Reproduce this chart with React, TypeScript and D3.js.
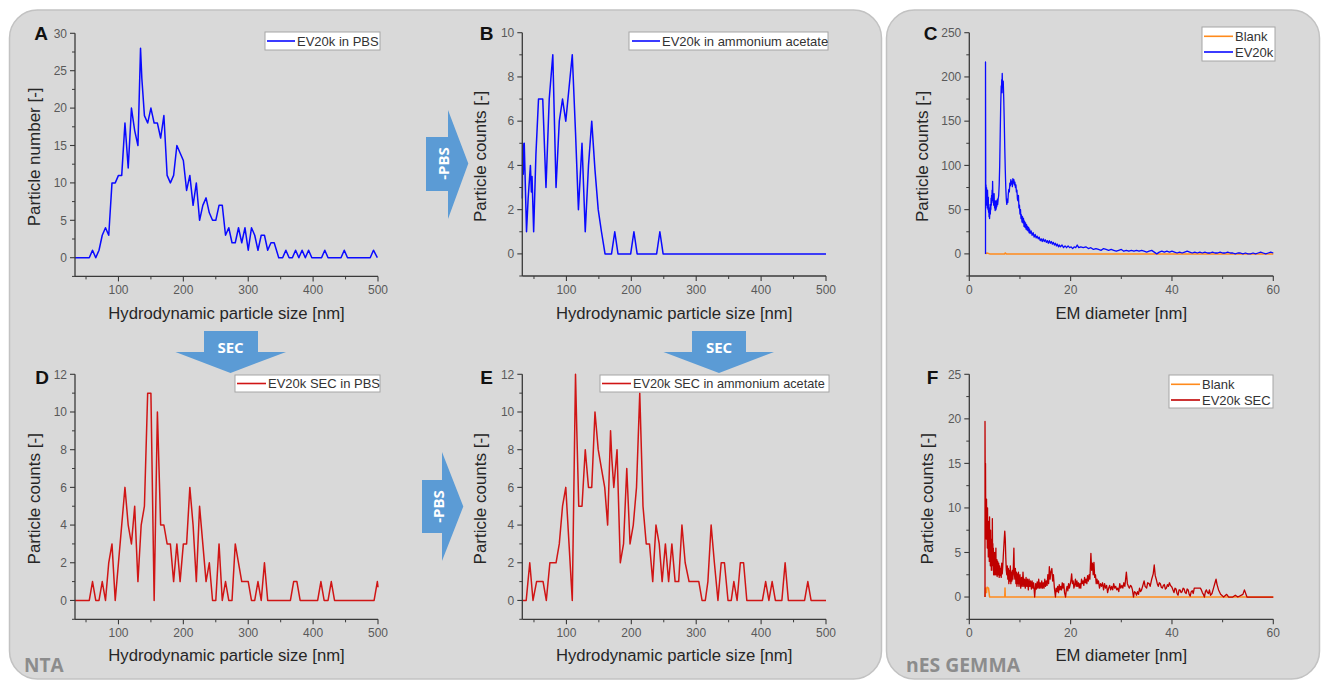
import React from 'react';
import * as d3 from 'd3';

type Pt = [number, number];

// ---------- tick values ----------
const nmTicks = [100, 200, 300, 400, 500];
const nmMinor = [50, 150, 250, 350, 450];
const emTicks = [0, 20, 40, 60];
const emMinor = [10, 30, 50];
const yTicksA = [0, 5, 10, 15, 20, 25, 30];
const yMinorA = [-2.5, 2.5, 7.5, 12.5, 17.5, 22.5, 27.5];
const yTicksB = [0, 2, 4, 6, 8, 10];
const yMinorB = [-1, 1, 3, 5, 7, 9];
const yTicksC = [0, 50, 100, 150, 200, 250];
const yMinorC = [-25, 25, 75, 125, 175, 225];
const yTicksDE = [0, 2, 4, 6, 8, 10, 12];
const yMinorDE = [-1, 1, 3, 5, 7, 9, 11];
const yTicksF = [0, 5, 10, 15, 20, 25];
const yMinorF = [-2.5, 2.5, 7.5, 12.5, 17.5, 22.5];

// ---------- series ----------
const ev20kPBS: Pt[] = [
  [33,0],[55,0],[60,1],[65,0],[70,1],[75,3],[80,4],[85,3],[90,10],[95,10],[100,11],[105,11],[110,18],[115,12],[120,20],[125,17],[130,15],[134,28],[136,24],[140,19],[145,18],[150,20],[155,18],[160,18],[165,16],[170,19],[175,11],[180,10],[185,11],[190,15],[195,14],[200,13],[205,9],[210,11],[215,7],[220,10],[225,5],[230,7],[235,8],[240,6],[245,5],[250,5],[255,7],[260,7],[265,3],[270,4],[275,2],[280,2],[285,4],[290,2],[295,4],[300,1],[305,4],[310,3],[315,1],[320,3],[325,3],[330,1],[335,2],[340,2],[347,0],[353,0],[358,1],[363,0],[368,0],[373,1],[378,0],[383,1],[388,0],[393,1],[398,0],[413,0],[418,1],[423,0],[443,0],[448,1],[453,0],[488,0],[493,1],[499,0]
];

const ev20kAA: Pt[] = [
  [32,2.5],[32.5,5],[33.5,3.6],[35,5],[38.5,1],[41,2.5],[44.5,4],[46,2.8],[47,3.5],[49.5,1],[53,4.5],[57,7],[63.5,7],[66,5],[68.5,3],[73.5,7],[79,9],[84,3],[89,6],[94,7],[99,6],[104,7.5],[109,9],[114,5.5],[118.5,2],[124,5],[129,1],[134,4],[139,6],[144,3.8],[149,2],[154,1],[159.5,0],[169.5,0],[174.5,1],[179.5,0],[199,0],[204,1],[209,0],[239,0],[244,1],[249,0],[500,0]
];

const blankC: Pt[] = [
  [3.2,0],[3.5,1],[4,0],[7,0],[7.1,1],[7.3,0],[60,0]
];

const ev20kC: Pt[] = [
  [3.2,0],[3.2,217],[3.25,62],[3.3,78],[3.35,60],[3.4,75],[3.45,55],[3.5,70],[3.55,52],[3.6,72],[3.65,58],[3.7,50],[3.75,64],[3.8,47],[3.85,56],[3.9,42],[3.95,50],[4.0,40],[4.05,48],[4.1,52],[4.15,45],[4.2,56],[4.25,50],[4.3,63],[4.35,55],[4.4,66],[4.45,58],[4.5,72],[4.55,64],[4.6,82],[4.65,66],[4.7,60],[4.75,68],[4.8,55],[4.85,62],[4.9,68],[4.95,56],[5.0,52],[5.05,60],[5.1,49],[5.15,55],[5.2,60],[5.25,50],[5.3,56],[5.35,52],[5.4,60],[5.45,54],[5.5,57],[5.55,62],[5.6,56],[5.7,62],[5.8,66],[5.9,78],[6.0,100],[6.1,135],[6.2,168],[6.3,190],[6.35,182],[6.4,197],[6.45,190],[6.5,204],[6.55,188],[6.6,196],[6.65,182],[6.7,195],[6.8,175],[6.9,150],[7.0,120],[7.1,95],[7.2,75],[7.3,62],[7.4,56],[7.5,62],[7.6,58],[7.7,68],[7.8,73],[7.9,70],[8.0,80],[8.1,77],[8.2,84],[8.3,79],[8.4,82],[8.5,76],[8.6,85],[8.7,80],[8.8,84],[8.9,78],[9.0,81],[9.1,75],[9.2,78],[9.3,70],[9.4,72],[9.5,62],[9.6,60],[9.7,66],[9.8,52],[9.9,55],[10.0,45],[10.1,50],[10.2,40],[10.3,44],[10.4,36],[10.5,42],[10.6,35],[10.7,40],[10.8,31],[10.9,37],[11.0,30],[11.1,35],[11.2,28],[11.3,33],[11.4,27],[11.5,31],[11.6,26],[11.7,30],[11.8,24],[11.9,28],[12.0,23],[12.2,26],[12.4,21],[12.6,24],[12.8,19],[13.0,22],[13.2,18],[13.4,20],[13.6,17],[13.8,19],[14.0,15],[14.2,17],[14.4,14],[14.6,17],[14.8,14],[15.0,16],[15.2,13],[15.4,15],[15.6,12],[15.8,15],[16.0,12],[16.2,14],[16.4,11],[16.6,13],[16.8,10],[17.0,12],[17.2,9],[17.4,11],[17.6,8],[17.8,10],[18.0,8],[18.3,10],[18.6,7],[18.9,9],[19.2,7],[19.5,9],[19.8,7],[20.1,8],[20.4,6],[20.7,8],[21.0,7],[21.3,10],[21.6,7],[22.0,8],[22.5,7],[23.0,8],[23.5,6],[24.0,7],[24.5,5],[25.0,6],[25.5,5],[26.0,4],[26.5,6],[27.0,5],[27.5,4],[28.0,5],[28.5,4],[29.0,3],[29.5,4],[30.0,5],[30.5,3],[31.0,4],[31.5,3],[32.0,4],[32.5,3],[33.0,4],[33.5,3],[34.0,4],[34.5,3],[35.0,2],[35.5,3],[36.0,4],[36.5,2],[37.0,0],[37.5,2],[38.0,3],[38.5,2],[39.0,3],[39.5,2],[40.0,3],[40.5,2],[41,1],[41.5,2],[42,1],[42.5,2],[43,3],[43.5,2],[44,1],[44.5,2],[45,1],[45.5,2],[46,1],[46.5,2],[47,1],[47.5,1],[48,2],[48.5,1],[49,1],[49.5,2],[50,1],[50.5,1],[51,2],[51.5,1],[52,1],[52.5,0],[53,1],[53.5,1],[54,0],[54.5,1],[55,0],[55.5,0],[56,1],[56.5,0],[57,1],[57.5,2],[58,1],[58.5,0],[59,1],[59.5,2],[60,1]
];

const ev20kSECPBS: Pt[] = [
  [33,0],[55,0],[60,1],[65,0],[70,0],[75,1],[80,0],[85,2],[90,3],[95,0],[100,2],[105,4],[110,6],[115,4],[120,3],[125,5],[130,1],[135,4],[140,5],[145,11],[150,11],[155,0],[160,10],[165,4],[170,4],[175,3],[180,3],[185,1],[190,3],[195,1],[200,3],[205,3],[210,6],[215,4],[220,1],[225,5],[230,3],[235,1],[240,2],[245,0],[250,0],[255,3],[260,0],[265,1],[270,0],[275,0],[280,3],[285,2],[290,1],[295,1],[300,1],[305,0],[310,0],[315,1],[320,0],[325,2],[330,0],[365,0],[370,1],[375,1],[380,0],[407,0],[412,1],[417,0],[423,0],[428,1],[433,0],[494,0],[499,1],[500,0.7]
];

const ev20kSECAA: Pt[] = [
  [32,0],[38,0],[43.5,2],[48.5,0],[54,1],[64,1],[69,0],[74.5,2],[84,2],[89,3],[94,5],[99,6],[104,3],[109,0],[114,12],[116,9],[119,5],[124,5],[129,8],[134,6],[139,6],[144,10],[149,8],[154,7],[159,6],[163.5,4],[168,9],[170,7.5],[173,6],[178,8],[183,2],[188,3],[193,7],[198,3],[203,4],[208,6],[213,11],[218,5],[223,3],[228,3],[233,1],[238,4],[243,3],[247.5,1],[252.5,3],[257.5,1],[262.5,3],[267.5,1],[273,1],[278,4],[283,2],[289,1],[304,1],[309,0],[314,0],[318,1],[323,4],[328,2],[333.5,0],[338.5,2],[343.5,2],[349,0],[354,0],[358,1],[363,0],[368,2],[373,2],[378,0],[402,0],[407,1],[412,0],[417,1],[422,0],[432,0],[437,2],[442,0],[467,0],[472,1],[477,0],[500,0]
];

const blankF: Pt[] = [
  [3.1,0],[3.2,1],[3.4,0.5],[3.5,1.1],[3.8,1],[4.0,0],[7.0,0],[7.05,1],[7.1,0],[60,0]
];

const ev20kSECF: Pt[] = [
  [3.1,0],[3.1,19.7],[3.15,12],[3.2,15],[3.25,8],[3.3,11],[3.35,6.5],[3.4,11],[3.45,7],[3.5,9.5],[3.55,5.5],[3.6,10],[3.65,6],[3.7,8],[3.75,4.5],[3.8,8.5],[3.85,5],[3.9,7],[3.95,4],[4.0,9],[4.05,5],[4.1,6.5],[4.15,3.5],[4.2,7.5],[4.25,4],[4.3,6],[4.35,3],[4.4,6.5],[4.45,3.5],[4.5,5],[4.55,8.8],[4.6,4],[4.65,6],[4.7,3],[4.75,5.5],[4.8,2.5],[4.85,5],[4.9,3],[4.95,4.5],[5.0,2.5],[5.05,5],[5.1,2.5],[5.15,4.5],[5.2,3],[5.25,5.5],[5.3,2.5],[5.35,4],[5.4,2.8],[5.45,4.2],[5.5,2.3],[5.6,4],[5.7,2.5],[5.8,3.8],[5.9,2.2],[6.0,3.5],[6.1,2.4],[6.2,3.2],[6.3,2.2],[6.4,3.8],[6.5,2.6],[6.6,3.4],[6.7,4.5],[6.8,5.5],[6.9,6.5],[7.0,7.4],[7.1,6.5],[7.2,4.5],[7.3,3],[7.4,2.5],[7.5,3.5],[7.6,2],[7.7,3.2],[7.8,1.5],[7.9,3],[8.0,1.8],[8.1,3.5],[8.2,1.5],[8.3,2.8],[8.4,1.8],[8.5,3],[8.6,2],[8.7,3.5],[8.8,5.5],[8.9,2.5],[9.0,2],[9.1,3.2],[9.2,1.5],[9.3,2.8],[9.4,1.2],[9.5,2.6],[9.6,1.5],[9.7,2.8],[9.8,1.2],[9.9,2],[10.0,2.5],[10.15,1],[10.3,2.2],[10.45,1.2],[10.6,2.8],[10.75,1.2],[10.9,2],[11.05,1],[11.2,2.2],[11.35,1.2],[11.5,2],[11.65,0.8],[11.8,2],[11.95,1.2],[12.1,1.8],[12.25,0.9],[12.4,1.8],[12.55,1],[12.7,1.6],[12.9,0],[13.1,1.5],[13.25,0.9],[13.4,1.7],[13.55,1],[13.7,2],[13.85,1],[14.0,1.6],[14.15,1],[14.3,1.8],[14.45,1],[14.6,1.6],[14.75,1],[14.9,2],[15.05,1.2],[15.2,1.8],[15.35,1.3],[15.5,2.5],[15.65,1.5],[15.8,3.4],[15.95,2],[16.1,2.8],[16.3,3.2],[16.45,1.8],[16.6,2.5],[16.8,1],[17.0,0],[17.15,1],[17.3,0.6],[17.45,1.2],[17.6,0.5],[17.75,1.4],[17.9,0.8],[18.05,1.2],[18.2,0.8],[18.35,1.6],[18.5,1],[18.65,1.5],[18.8,0.5],[19.0,0],[19.15,0.8],[19.3,1.2],[19.45,0.7],[19.6,1.5],[19.75,1],[19.9,1.4],[20.05,1.8],[20.2,2.6],[20.35,1.5],[20.5,1.8],[20.65,1],[20.8,1.4],[20.95,2],[21.1,1.2],[21.25,1.8],[21.4,1.2],[21.55,1.6],[21.7,1],[21.85,1.5],[22.0,1],[22.15,2],[22.3,1.5],[22.45,1.8],[22.6,1.3],[22.75,2.2],[22.9,1.6],[23.05,2],[23.2,1.5],[23.35,2.4],[23.5,1.8],[23.65,2.5],[23.8,2],[24.0,4.9],[24.15,3],[24.3,3.8],[24.45,2.5],[24.6,3.9],[24.75,2.2],[24.9,2.5],[25.05,1.5],[25.2,2],[25.35,1.5],[25.5,1.8],[25.7,1],[25.9,1.5],[26.1,1.2],[26.3,1.6],[26.5,0.8],[26.7,1.5],[26.9,1],[27.1,1.3],[27.3,0.5],[27.5,1],[27.7,1.3],[27.9,0.8],[28.1,1.2],[28.3,0.8],[28.5,1.5],[28.7,1],[28.9,1.2],[29.1,0.8],[29.3,1],[29.5,0.6],[29.7,1.5],[29.9,1],[30.1,1.3],[30.3,1],[30.5,1.6],[30.7,1.2],[31.0,2.8],[31.2,1.5],[31.4,1.2],[31.6,1],[31.8,1.3],[32.0,1.2],[32.2,0.8],[32.4,0],[32.6,0.6],[32.8,0.5],[33.0,0.2],[33.2,0.6],[33.4,0.3],[33.6,1],[33.8,0.6],[34.0,0.8],[34.2,1.2],[34.5,1.8],[34.7,1.2],[35.0,1],[35.2,1.6],[35.5,1.5],[35.7,1.2],[36.0,2],[36.3,2.6],[36.5,3.6],[36.7,2.4],[36.9,2],[37.1,1.5],[37.3,1.2],[37.5,1.6],[37.7,1.5],[37.9,1.1],[38.1,1],[38.3,1.3],[38.5,1.4],[38.7,0.9],[38.9,1],[39.1,1.4],[39.3,1.2],[39.5,1.6],[39.7,1.3],[40.0,1.1],[40.2,0.8],[40.4,0.5],[40.6,1],[40.8,0.9],[41.0,0.4],[41.2,0.2],[41.4,0.8],[41.6,0.8],[41.8,0.5],[42.0,0.6],[42.2,1],[42.4,0.9],[42.6,0.5],[42.8,0.4],[43.0,0.9],[43.2,0.8],[43.4,0.3],[43.6,0.1],[43.8,0.6],[44.0,0.7],[44.2,0.4],[44.4,1],[45.0,1],[45.6,1],[45.8,0.8],[46.0,0.5],[46.2,0.3],[46.4,0],[46.6,0.6],[46.8,0.8],[47.0,0.5],[47.2,0.4],[47.4,0.8],[47.6,0.2],[47.9,0.4],[48.2,1],[48.5,1.6],[48.7,2],[48.9,1.4],[49.2,0.8],[49.6,0.3],[50.2,0],[50.8,0.3],[51.2,0],[52.0,0],[52.5,0.2],[53.0,0],[54.0,0.3],[54.3,0.8],[54.8,0],[60,0]
];

// ---------- styling ----------
const FONT = "'Liberation Sans', Arial, Helvetica, sans-serif";
const BOLD = "'Open Sans', 'Liberation Sans', sans-serif";
const BLUE = '#0a0aff';
const RED = '#d01515';
const DARKRED = '#c00000';
const ORANGE = '#ff8a1c';
const AXIS = '#3a3a3a';
const TICKTXT = '#595959';
const PANEL = '#d9d9d9';
const ARROW = '#5b9bd5';

type Series = { data: Pt[]; color: string; name: string; width: number };
type Cfg = {
  letter: string; lx: number; ly: number;
  x0: number; x1: number; yb: number; yt: number;
  xDomain: [number, number]; yDomain: [number, number];
  xTicks: number[]; xMinor: number[]; yTicks: number[]; yMinor: number[];
  xTitle: string; yTitle: string; yTitleX: number; xTitleY: number;
  series: Series[];
  legend: { x: number; y: number; w: number; h: number; l1: number; l2: number; fs: number };
};

const panels: Cfg[] = [
  {
    letter: 'A', lx: 41, ly: 39.5, x0: 75, x1: 378, yb: 276.4, yt: 33.3,
    xDomain: [33, 500], yDomain: [-2.5, 30], xTicks: nmTicks, xMinor: nmMinor, yTicks: yTicksA, yMinor: yMinorA,
    xTitle: 'Hydrodynamic particle size [nm]', yTitle: 'Particle number [-]', yTitleX: 34, xTitleY: 319,
    series: [{ data: ev20kPBS, color: BLUE, name: 'EV20k in PBS', width: 1.5 }],
    legend: { x: 265, y: 32, w: 115, h: 18, l1: 267, l2: 295, fs: 13 },
  },
  {
    letter: 'B', lx: 486.5, ly: 39.5, x0: 522.3, x1: 826, yb: 276, yt: 32.7,
    xDomain: [32, 500], yDomain: [-1, 10], xTicks: nmTicks, xMinor: nmMinor, yTicks: yTicksB, yMinor: yMinorB,
    xTitle: 'Hydrodynamic particle size [nm]', yTitle: 'Particle counts [-]', yTitleX: 480, xTitleY: 319,
    series: [{ data: ev20kAA, color: BLUE, name: 'EV20k in ammonium acetate', width: 1.5 }],
    legend: { x: 629, y: 32, w: 199, h: 18, l1: 632, l2: 660, fs: 13 },
  },
  {
    letter: 'C', lx: 930.5, ly: 39.5, x0: 969.3, x1: 1273.3, yb: 276, yt: 32.7,
    xDomain: [0, 60], yDomain: [-25, 250], xTicks: emTicks, xMinor: emMinor, yTicks: yTicksC, yMinor: yMinorC,
    xTitle: 'EM diameter [nm]', yTitle: 'Particle counts [-]', yTitleX: 922, xTitleY: 319,
    series: [{ data: blankC, color: ORANGE, name: 'Blank', width: 1.5 }, { data: ev20kC, color: BLUE, name: 'EV20k', width: 1.3 }],
    legend: { x: 1202, y: 27, w: 73, h: 34, l1: 1204, l2: 1233, fs: 13 },
  },
  {
    letter: 'D', lx: 42, ly: 383.5, x0: 75, x1: 378, yb: 619.3, yt: 374.3,
    xDomain: [33, 500], yDomain: [-1, 12], xTicks: nmTicks, xMinor: nmMinor, yTicks: yTicksDE, yMinor: yMinorDE,
    xTitle: 'Hydrodynamic particle size [nm]', yTitle: 'Particle counts [-]', yTitleX: 34, xTitleY: 661,
    series: [{ data: ev20kSECPBS, color: RED, name: 'EV20k SEC in PBS', width: 1.5 }],
    legend: { x: 235, y: 375, w: 145, h: 17, l1: 237, l2: 266, fs: 13 },
  },
  {
    letter: 'E', lx: 486.5, ly: 383.5, x0: 522.3, x1: 826, yb: 619.3, yt: 374.3,
    xDomain: [32, 500], yDomain: [-1, 12], xTicks: nmTicks, xMinor: nmMinor, yTicks: yTicksDE, yMinor: yMinorDE,
    xTitle: 'Hydrodynamic particle size [nm]', yTitle: 'Particle counts [-]', yTitleX: 480, xTitleY: 661,
    series: [{ data: ev20kSECAA, color: RED, name: 'EV20k SEC in ammonium acetate', width: 1.5 }],
    legend: { x: 600, y: 375, w: 229, h: 17, l1: 602, l2: 631, fs: 12.7 },
  },
  {
    letter: 'F', lx: 932.5, ly: 383.5, x0: 969.3, x1: 1273.3, yb: 619.3, yt: 374.3,
    xDomain: [0, 60], yDomain: [-2.5, 25], xTicks: emTicks, xMinor: emMinor, yTicks: yTicksF, yMinor: yMinorF,
    xTitle: 'EM diameter [nm]', yTitle: 'Particle counts [-]', yTitleX: 927.5, xTitleY: 661,
    series: [{ data: blankF, color: ORANGE, name: 'Blank', width: 1.5 }, { data: ev20kSECF, color: DARKRED, name: 'EV20k SEC', width: 1.3 }],
    legend: { x: 1169, y: 375, w: 104, h: 33, l1: 1171, l2: 1200, fs: 13 },
  },
];

function Panel({ cfg }: { cfg: Cfg }) {
  const x = d3.scaleLinear().domain(cfg.xDomain).range([cfg.x0, cfg.x1]);
  const y = d3.scaleLinear().domain(cfg.yDomain).range([cfg.yb, cfg.yt]);
  const line = d3.line<Pt>().x(d => x(d[0])).y(d => y(d[1]));
  const lg = cfg.legend;
  return (
    <g>
      {cfg.series.map((s, i) => (
        <path key={i} d={line(s.data) || ''} fill="none" stroke={s.color} strokeWidth={s.width} strokeLinejoin="round" />
      ))}
      <line x1={cfg.x0} x2={cfg.x0} y1={cfg.yb} y2={cfg.yt} stroke={AXIS} strokeWidth={1.3} />
      <line x1={cfg.x0} x2={cfg.x1} y1={cfg.yb} y2={cfg.yb} stroke={AXIS} strokeWidth={1.3} />
      {cfg.yTicks.map(t => (
        <g key={'yt' + t}>
          <line x1={cfg.x0 - 5} x2={cfg.x0} y1={y(t)} y2={y(t)} stroke={AXIS} strokeWidth={1.1} />
          <text x={cfg.x0 - 8} y={y(t)} dy="0.35em" textAnchor="end" fontSize={12} fill={TICKTXT} fontFamily={FONT}>{t}</text>
        </g>
      ))}
      {cfg.yMinor.map(t => (
        <line key={'ym' + t} x1={cfg.x0 - 3} x2={cfg.x0} y1={y(t)} y2={y(t)} stroke={AXIS} strokeWidth={1} />
      ))}
      {cfg.xTicks.map(t => (
        <g key={'xt' + t}>
          <line x1={x(t)} x2={x(t)} y1={cfg.yb} y2={cfg.yb + 5} stroke={AXIS} strokeWidth={1.1} />
          <text x={x(t)} y={cfg.yb + 17.5} textAnchor="middle" fontSize={12} fill={TICKTXT} fontFamily={FONT}>{t}</text>
        </g>
      ))}
      {cfg.xMinor.map(t => (
        <line key={'xm' + t} x1={x(t)} x2={x(t)} y1={cfg.yb} y2={cfg.yb + 3} stroke={AXIS} strokeWidth={1} />
      ))}
      <text x={(cfg.x0 + cfg.x1) / 2} y={cfg.xTitleY} textAnchor="middle" fontSize={16.7} fill="#262626" fontFamily={FONT}>{cfg.xTitle}</text>
      <text transform={`translate(${cfg.yTitleX},${(cfg.yb + cfg.yt) / 2 + 2}) rotate(-90)`} dy="0.35em" textAnchor="middle" fontSize={17} fill="#262626" fontFamily={FONT}>{cfg.yTitle}</text>
      <text x={cfg.lx} y={cfg.ly} textAnchor="middle" fontSize={19} fontWeight="bold" fill="#111" fontFamily={FONT}>{cfg.letter}</text>
      <rect x={lg.x} y={lg.y} width={lg.w} height={lg.h} fill="#ffffff" stroke="#a6a6a6" strokeWidth={1} />
      {cfg.series.map((s, i) => {
        const cy = lg.y + (cfg.series.length > 1 ? 9.3 + i * 15.7 : lg.h / 2);
        return (
          <g key={'lg' + i}>
            <line x1={lg.l1} x2={lg.l2} y1={cy} y2={cy} stroke={s.color} strokeWidth={1.6} />
            <text x={lg.l2 + 2} y={cy} dy="0.36em" fontSize={lg.fs} fill="#333" fontFamily={FONT}>{s.name}</text>
          </g>
        );
      })}
    </g>
  );
}

function DownArrow({ cx, rx0, rx1, top, base, hx0, hx1, tip, label }: any) {
  const pts = [[rx0, top], [rx1, top], [rx1, base], [hx1, base], [cx, tip], [hx0, base], [rx0, base]];
  return (
    <g>
      <polygon points={pts.map(p => p.join(',')).join(' ')} fill={ARROW} />
      <text x={cx} y={base + 1} textAnchor="middle" fontSize={15} fontWeight="bold" fill="#fff" fontFamily={BOLD}>{label}</text>
    </g>
  );
}

function RightArrow({ cy, rx0, rx1, ry0, ry1, hy0, hy1, tip, tx, label }: any) {
  const pts = [[rx0, ry0], [rx1, ry0], [rx1, hy0], [tip, cy], [rx1, hy1], [rx1, ry1], [rx0, ry1]];
  return (
    <g>
      <polygon points={pts.map(p => p.join(',')).join(' ')} fill={ARROW} />
      <text transform={`translate(${tx},${cy}) rotate(-90)`} dy="0.35em" textAnchor="middle" fontSize={15} fontWeight="bold" fill="#fff" fontFamily={BOLD}>{label}</text>
    </g>
  );
}

export default function App() {
  return (
    <svg width={1322} height={680} style={{ position: 'absolute', left: 0, top: 0, display: 'block' }}>
      <rect x={0} y={0} width={1322} height={680} fill="#ffffff" />
      <rect x={9.5} y={10} width={872} height={669} rx={28} ry={28} fill={PANEL} stroke="#c2c2c2" strokeWidth={1.5} />
      <rect x={886.5} y={10} width={433} height={669} rx={28} ry={28} fill={PANEL} stroke="#c2c2c2" strokeWidth={1.5} />
      <RightArrow cy={163.5} rx0={426} rx1={448} ry0={137} ry1={191} hy0={110} hy1={219} tip={468.3} tx={443.5} label="-PBS" />
      <RightArrow cy={506.5} rx0={422} rx1={442} ry0={480} ry1={533} hy0={452} hy1={561} tip={463.3} tx={439} label="-PBS" />
      <DownArrow cx={230.5} rx0={204} rx1={258} top={331} base={352} hx0={175.5} hx1={286} tip={373} label="SEC" />
      <DownArrow cx={719} rx0={692} rx1={746} top={331} base={352} hx0={663.5} hx1={774} tip={373} label="SEC" />
      {panels.map(p => <Panel key={p.letter} cfg={p} />)}
      <text x={24} y={671.5} fontSize={19} fontWeight="bold" fill="#8c8c8c" fontFamily={BOLD}>NTA</text>
      <text x={906} y={671.5} fontSize={19} fontWeight="bold" fill="#8c8c8c" fontFamily={BOLD} textLength={114} lengthAdjust="spacingAndGlyphs">nES GEMMA</text>
    </svg>
  );
}
